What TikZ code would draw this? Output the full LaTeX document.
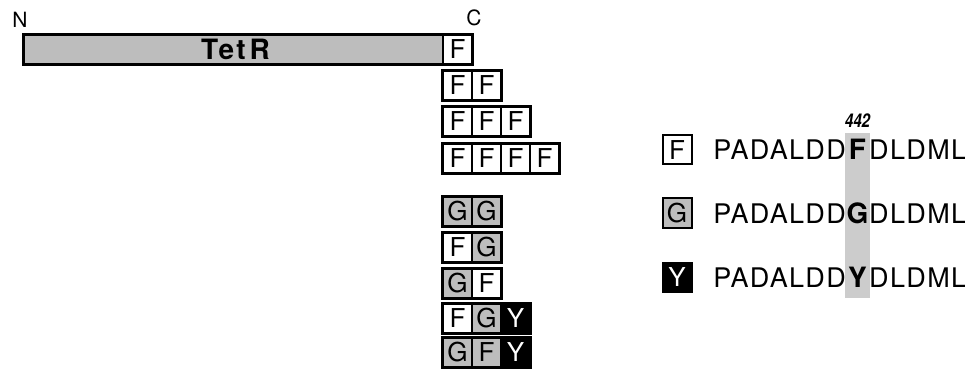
\documentclass[tikz,border=0pt]{standalone}
\usepackage{fontspec}
\setmainfont{TeX Gyre Heros}
\newfontfamily\seqfont[LetterSpace=5]{TeX Gyre Heros}
\newfontfamily\barfont[LetterSpace=8]{TeX Gyre Heros}
\usepackage{graphicx}
\definecolor{halftone}{gray}{0.74}
\definecolor{colgray}{gray}{0.80}
\begin{document}
\begin{tikzpicture}[x=1pt,y=-1pt,
  cell/.style={draw=black, line width=1.4pt, minimum width=29pt, minimum height=29pt, inner sep=0pt, font=\fontsize{26}{26}\selectfont},
  fcell/.style={cell, fill=white},
  gcell/.style={cell, fill=halftone},
  ycell/.style={cell, fill=black, text=white},
  rowframe/.style={draw=black, line width=2.8pt},
  keybox/.style={draw=black, line width=2pt, minimum width=29pt, minimum height=29pt, inner sep=0pt, font=\fontsize{26}{26}\selectfont},
  endlabel/.style={font=\fontsize{21}{21}\selectfont, inner sep=0pt},
  seqtext/.style={font=\seqfont\fontsize{27}{27}\selectfont, inner sep=0pt, anchor=base},
  seqbold/.style={font=\fontsize{28}{28}\selectfont\bfseries, inner sep=0pt, anchor=base},
]
\useasboundingbox (0,0) rectangle (965,371);

% end labels
\node[endlabel] (nterm) at (20,19.5) {N};
\node[endlabel] (cterm) at (474,17.5) {C};

% row 1: TetR bar + F
\node[draw=black, line width=1.4pt, fill=halftone, minimum width=419pt, minimum height=29pt, inner sep=0pt] (tetr) at (233.5,49.5) {};
\node[font=\barfont\fontsize{28}{28}\selectfont\bfseries, inner sep=0pt] (tetrlabel) at (235.5,49.5) {Tet\kern4pt R};
\node[fcell] (c1a) at (457.5,49.5) {F};
\draw[rowframe] (tetr.north west) rectangle (c1a.south east);

% row 2: FF
\node[fcell] (c2a) at (457.5,85.5) {F};
\node[fcell] (c2b) at (486.5,85.5) {F};
\draw[rowframe] (c2a.north west) rectangle (c2b.south east);

% row 3: FFF
\node[fcell] (c3a) at (457.5,121.5) {F};
\node[fcell] (c3b) at (486.5,121.5) {F};
\node[fcell] (c3c) at (515.5,121.5) {F};
\draw[rowframe] (c3a.north west) rectangle (c3c.south east);

% row 4: FFFF
\node[fcell] (c4a) at (457.5,158.5) {F};
\node[fcell] (c4b) at (486.5,158.5) {F};
\node[fcell] (c4c) at (515.5,158.5) {F};
\node[fcell] (c4d) at (544.5,158.5) {F};
\draw[rowframe] (c4a.north west) rectangle (c4d.south east);

% row 5: GG
\node[gcell] (c5a) at (457.5,211.5) {G};
\node[gcell] (c5b) at (486.5,211.5) {G};
\draw[rowframe] (c5a.north west) rectangle (c5b.south east);

% row 6: FG
\node[fcell] (c6a) at (457.5,247.5) {F};
\node[gcell] (c6b) at (486.5,247.5) {G};
\draw[rowframe] (c6a.north west) rectangle (c6b.south east);

% row 7: GF
\node[gcell] (c7a) at (457.5,283.5) {G};
\node[fcell] (c7b) at (486.5,283.5) {F};
\draw[rowframe] (c7a.north west) rectangle (c7b.south east);

% row 8: FGY
\node[fcell] (c8a) at (457.5,318.5) {F};
\node[gcell] (c8b) at (486.5,318.5) {G};
\node[ycell] (c8c) at (515.5,318.5) {Y};
\draw[rowframe] (c8a.north west) rectangle (c8c.south east);

% row 9: GFY
\node[gcell] (c9a) at (457.5,352.5) {G};
\node[gcell] (c9b) at (486.5,352.5) {F};
\node[ycell] (c9c) at (515.5,352.5) {Y};
\draw[rowframe] (c9a.north west) rectangle (c9c.south east);

% right panel: highlighted column
\node[fill=colgray, minimum width=25pt, minimum height=165pt, inner sep=0pt] (col) at (857.5,215.5) {};
\node[font=\fontsize{19}{19}\selectfont\bfseries\itshape, inner sep=0pt] (pos) at (857.5,121) {\scalebox{0.8}[1]{442}};

% key boxes
\node[keybox, fill=white] (kf) at (677,150) {F};
\node[keybox, fill=halftone] (kg) at (677,213) {G};
\node[keybox, fill=black, text=white] (ky) at (677,277) {Y};

% sequences
\node[seqtext, anchor=base east] (s1l) at (846,160) {PADALDD};
\node[seqbold] (s1m) at (857.5,160) {F};
\node[seqtext, anchor=base west] (s1r) at (869,160) {DLDML};

\node[seqtext, anchor=base east] (s2l) at (846,223) {PADALDD};
\node[seqbold] (s2m) at (857.5,223) {G};
\node[seqtext, anchor=base west] (s2r) at (869,223) {DLDML};

\node[seqtext, anchor=base east] (s3l) at (846,287) {PADALDD};
\node[seqbold] (s3m) at (857.5,287) {Y};
\node[seqtext, anchor=base west] (s3r) at (869,287) {DLDML};
\end{tikzpicture}
\end{document}
